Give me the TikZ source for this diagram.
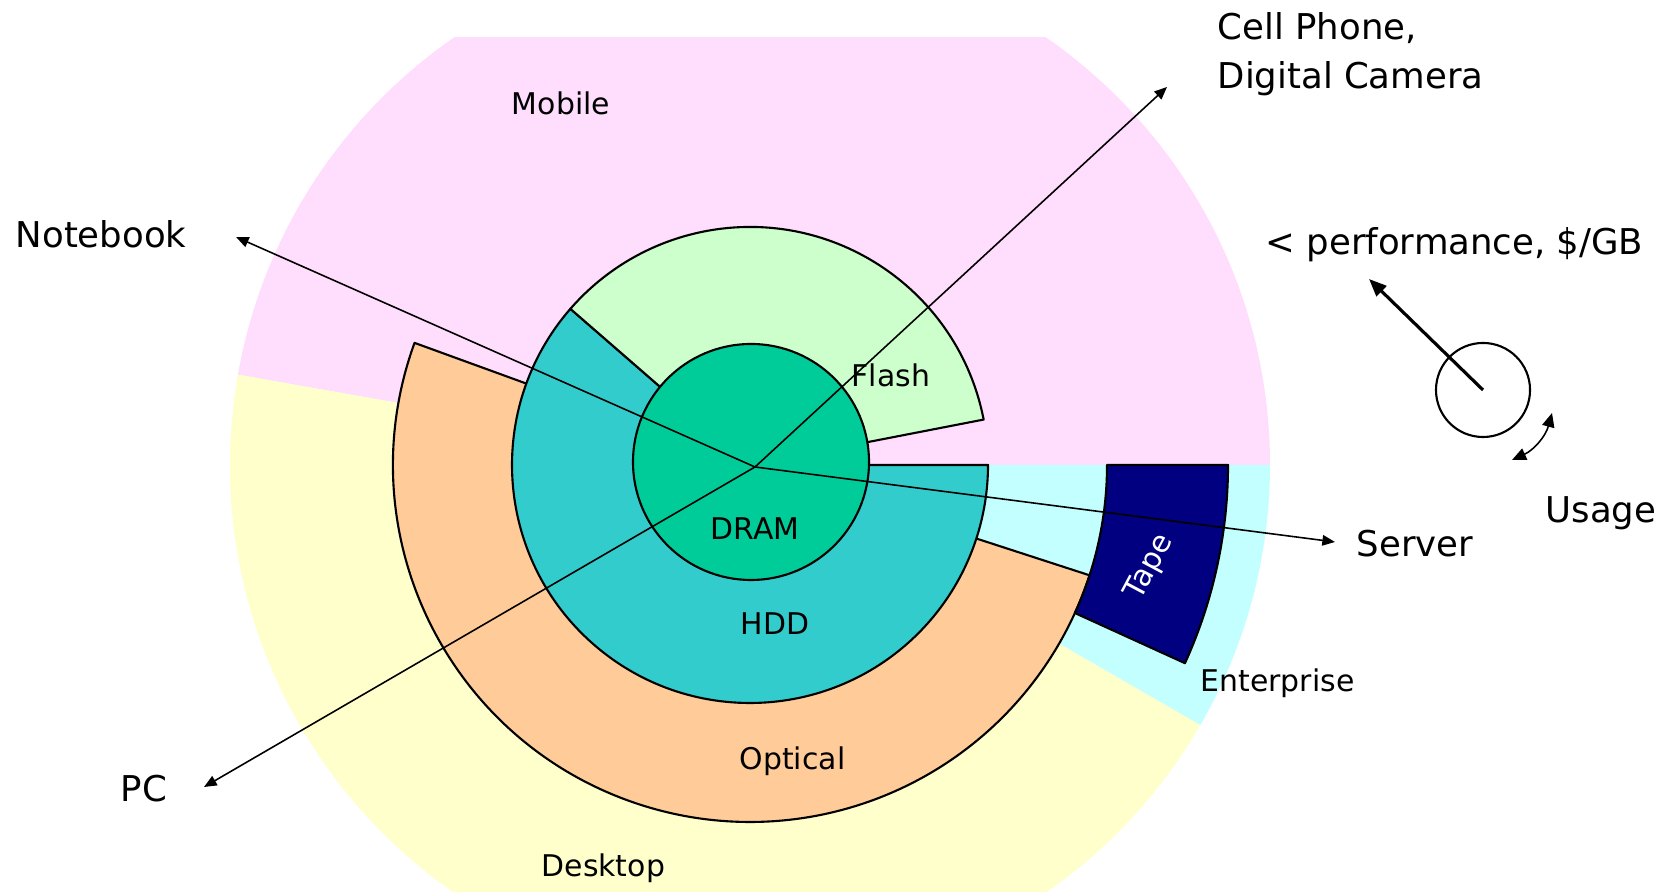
\documentclass[tikz,border=0pt]{standalone}
\usepackage{fontspec}
\setmainfont{DejaVu Sans}
\usetikzlibrary{arrows.meta}
\definecolor{mobilepink}{HTML}{FFDDFD}
\definecolor{desktopyellow}{HTML}{FFFFCC}
\definecolor{entcyan}{HTML}{C4FFFF}
\definecolor{hddteal}{HTML}{33CCCC}
\definecolor{dramgreen}{HTML}{00CC99}
\definecolor{flashgreen}{HTML}{CCFFCC}
\definecolor{opticalorange}{HTML}{FFCC99}
\definecolor{tapenavy}{HTML}{000080}
\begin{document}
\begin{tikzpicture}[x=0.01cm,y=0.01cm,
  ring/.style={draw=black,line width=0.6pt,line join=round},
  conn/.style={line width=0.45pt,-{Triangle[length=3.6pt,width=3pt]}},
  biglabel/.style={font=\fontsize{10.1}{12}\selectfont,inner sep=0pt},
  smalllabel/.style={font=\fontsize{8.5}{10}\selectfont,inner sep=0pt}]
\useasboundingbox (0,0) rectangle (1667,892);
\begin{scope}[shift={(750,427)}]
  \begin{scope}
    \clip (-750,-427) rectangle (917,427);
    \fill[mobilepink] (0,0) -- (0:520) arc[start angle=0,end angle=170,radius=520] -- cycle;
    \fill[desktopyellow] (0,0) -- (170:520) arc[start angle=170,end angle=330,radius=520] -- cycle;
    \fill[entcyan] (0,0) -- (330:520) arc[start angle=330,end angle=360,radius=520] -- cycle;
  \end{scope}
  % Optical
  \filldraw[ring,fill=opticalorange] (0,0) -- (160:357) arc[start angle=160,end angle=342,radius=357] -- cycle;
  % Tape
  \filldraw[ring,fill=tapenavy] (-24.5:357) -- (-24.5:478) arc[start angle=-24.5,end angle=0,radius=478] -- (0:357) arc[start angle=0,end angle=-24.5,radius=357] -- cycle;
  % HDD
  \filldraw[ring,fill=hddteal] (0,0) -- (139:238) arc[start angle=139,end angle=360,radius=238] -- cycle;
  % Flash
  \filldraw[ring,fill=flashgreen] (0,0) -- (11:238) arc[start angle=11,end angle=139,radius=238] -- cycle;
  % DRAM
  \filldraw[ring,fill=dramgreen] (1,3) circle[radius=118];
  \coordinate (hub) at (5,-2);
\end{scope}
% arrow ends
\coordinate (notebookEnd) at (236,655);
\coordinate (cellEnd) at (1167,805);
\coordinate (serverEnd) at (1335,350);
\coordinate (pcEnd) at (204,105);
\node[smalllabel,text=white,rotate=62] (tape) at (1150,325) {Tape};
\draw[conn] (hub) -- (notebookEnd);
\draw[conn] (hub) -- (cellEnd);
\draw[conn] (hub) -- (serverEnd);
\draw[conn] (hub) -- (pcEnd);
% labels
\node[smalllabel,anchor=base] (mobile) at (561,777) {Mobile};
\node[smalllabel,anchor=base west] (desktop) at (541,15) {Desktop};
\node[smalllabel,anchor=base west] (enterprise) at (1200,200) {Enterprise};
\node[smalllabel,anchor=base west] (optical) at (739,122) {Optical};
\node[smalllabel,anchor=base west] (hdd) at (740,257) {HDD};
\node[smalllabel,anchor=base west] (dram) at (710,352) {DRAM};
\node[smalllabel,anchor=base west] (flash) at (851,505) {Flash};
\node[biglabel,anchor=base west] (notebook) at (15,644) {Notebook};
\node[biglabel,anchor=base west] (cell1) at (1217,852) {Cell Phone,};
\node[biglabel,anchor=base west] (cell2) at (1217,803) {Digital Camera};
\node[biglabel,anchor=base west] (server) at (1356,335) {Server};
\node[biglabel,anchor=base west] (pc) at (120,90) {PC};
\node[biglabel,anchor=base west] (perf) at (1265,637) {< performance, \$/GB};
\node[biglabel,anchor=base] (usage) at (1601,369) {Usage};
% legend icon
\node[draw=black,line width=0.6pt,circle,minimum size=0.94cm,inner sep=0pt] (icon) at (1483,502) {};
\coordinate (iconTip) at (1369,613);
\draw[line width=0.9pt,-{Triangle[length=5pt,width=4pt]}] (icon.center) -- (iconTip);
\coordinate (usageA) at (1512,432);
\coordinate (usageB) at (1552,479);
\draw[line width=0.45pt,{Triangle[length=4pt,width=3.5pt]}-{Triangle[length=4pt,width=3.5pt]}] (usageA) to[bend right=25] (usageB);
\end{tikzpicture}
\end{document}
